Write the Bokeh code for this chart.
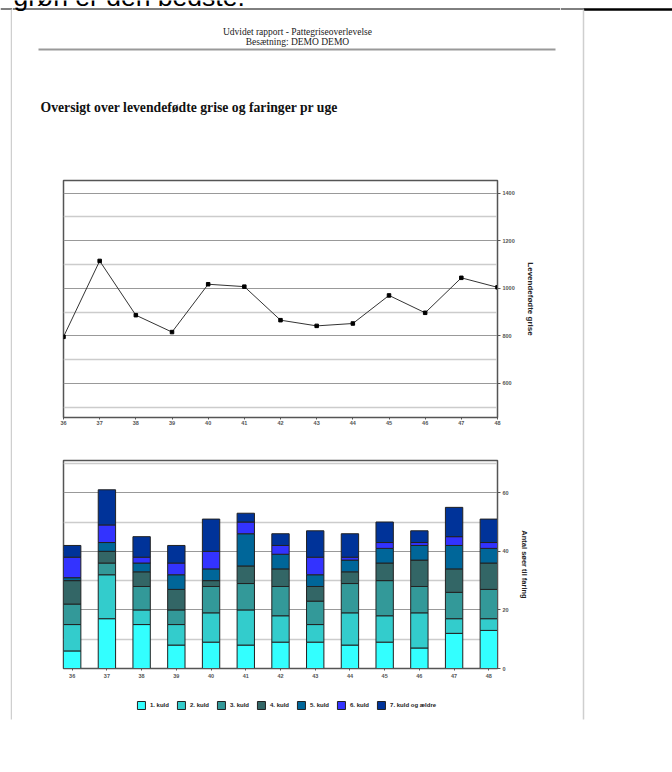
from bokeh.plotting import figure
from bokeh.models import Range1d, FixedTicker, Legend, LegendItem, ColumnDataSource
from bokeh.layouts import row, column
from bokeh.embed import file_html
from bokeh.resources import INLINE
from bokeh.core.properties import value

# ---------------- data ----------------
weeks = [36, 37, 38, 39, 40, 41, 42, 43, 44, 45, 46, 47, 48]
levendefodte = [796, 1115, 887, 816, 1017, 1007, 866, 842, 852, 970, 897, 1044, 1004]

kuld_names = ["1. kuld", "2. kuld", "3. kuld", "4. kuld", "5. kuld", "6. kuld", "7. kuld og ældre"]
kuld1 = [6, 17, 15, 8, 9, 8, 9, 9, 8, 9, 7, 12, 13]
kuld2 = [9, 15, 5, 7, 10, 12, 9, 6, 11, 9, 12, 5, 4]
kuld3 = [7, 4, 8, 5, 9, 9, 10, 8, 10, 12, 9, 9, 10]
kuld4 = [8, 4, 5, 7, 2, 6, 6, 5, 4, 6, 9, 8, 9]
kuld5 = [1, 3, 3, 5, 4, 11, 5, 4, 4, 5, 5, 8, 5]
kuld6 = [7, 6, 2, 4, 6, 4, 3, 6, 1, 2, 1, 3, 2]
kuld7 = [4, 12, 7, 6, 11, 3, 4, 9, 8, 7, 4, 10, 8]
kuld_colors = ["#33FFFF", "#33CCCC", "#339999", "#336666", "#006699", "#3333FF", "#003399"]

line_ticks = [600, 800, 1000, 1200, 1400]
line_minor = [500, 700, 900, 1100, 1300]
bar_ticks = [0, 20, 40, 60]
bar_minor = [10, 30, 50, 70]

top_text = "grøn er den bedste."
header1 = "Udvidet rapport - Pattegriseoverlevelse"
header2 = "Besætning: DEMO DEMO"
title = "Oversigt over levendefødte grise og faringer pr uge"

SANS = "Liberation Sans"
SERIF = "Liberation Serif"
BORDER = "#cfcfcf"


def blank(width, height, x0, x1, y0, y1):
    p = figure(width=width, height=height, x_range=Range1d(x0, x1), y_range=Range1d(y1, y0),
               output_backend="svg", toolbar_location=None,
               x_axis_location=None, y_axis_location=None, min_border=0,
               outline_line_color=None, background_fill_color="white",
               border_fill_color="white", frame_align=False)
    p.grid.visible = False
    return p


# ---------------- left / right page strips ----------------
stripL = blank(12, 772, 0, 12, 0, 772)
stripL.segment(x0=[0], y0=[8.5], x1=[12], y1=[8.5], line_color="black", line_width=1)
stripL.segment(x0=[11], y0=[9], x1=[11], y1=[719], line_color=BORDER, line_width=1.5)

stripR = blank(112, 772, 560, 672, 0, 772)
stripR.segment(x0=[560], y0=[8.5], x1=[583], y1=[8.5], line_color="black", line_width=1)
stripR.segment(x0=[583], y0=[9], x1=[672], y1=[9], line_color="black", line_width=2.5)
stripR.segment(x0=[583], y0=[9], x1=[583], y1=[719], line_color=BORDER, line_width=1.5)

# ---------------- header ----------------
figA = blank(548, 170, 12, 560, 0, 170)
figA.text(x=[13], y=[-4], text=[top_text], text_align="left", text_baseline="alphabetic",
          text_font=value(SANS), text_font_size="26.5px", text_color="black")
figA.segment(x0=[12], y0=[8.5], x1=[560], y1=[8.5], line_color="black", line_width=1)
figA.text(x=[297], y=[31], text=[header1], text_align="center", text_baseline="middle",
          text_font=value(SERIF), text_font_size="9.5px", text_color="#222")
figA.text(x=[297], y=[41], text=[header2], text_align="center", text_baseline="middle",
          text_font=value(SERIF), text_font_size="9.5px", text_color="#222")
figA.segment(x0=[38], y0=[49], x1=[555], y1=[49], line_color="#999999", line_width=2)
figA.text(x=[40], y=[107], text=[title], text_align="left", text_baseline="middle",
          text_font=value(SERIF), text_font_size="13.7px", text_font_style="bold", text_color="#111")


def style_axes(p, yticks, yminor, ylabel, ylabel_size):
    p.outline_line_color = "#555555"
    p.outline_line_width = 1.5
    p.xgrid.visible = False
    ya = p.yaxis[0]
    ya.ticker = FixedTicker(ticks=yticks, minor_ticks=yminor)
    ya.axis_label = ylabel
    ya.axis_label_text_font = SANS
    ya.axis_label_text_font_size = ylabel_size
    ya.axis_label_text_font_style = "bold"
    ya.axis_label_text_color = "#222222"
    ya.axis_label_standoff = 8
    ya.major_label_text_font = SANS
    ya.major_label_text_font_size = "5.5px"
    ya.major_label_text_font_style = "bold"
    ya.major_label_text_color = "#555555"
    ya.major_label_standoff = 2
    ya.major_tick_out = 3
    ya.major_tick_in = 0
    ya.minor_tick_out = 0
    ya.minor_tick_in = 0
    ya.axis_line_color = "#555555"
    ya.major_tick_line_color = "#555555"
    g = p.ygrid[0]
    g.ticker = FixedTicker(ticks=yticks, minor_ticks=yminor)
    g.grid_line_color = "#999999"
    g.grid_line_width = 1
    g.minor_grid_line_color = "#cccccc"
    g.minor_grid_line_width = 1.5
    xa = p.xaxis[0]
    xa.ticker = FixedTicker(ticks=weeks)
    xa.major_label_text_font = SANS
    xa.major_label_text_font_size = "5.5px"
    xa.major_label_text_font_style = "bold"
    xa.major_label_text_color = "#555555"
    xa.major_tick_out = 2
    xa.major_tick_in = 0
    xa.minor_tick_out = 0
    xa.minor_tick_in = 0
    xa.axis_line_color = "#555555"
    xa.major_tick_line_color = "#555555"


# ---------------- line chart ----------------
pB = figure(width=548, height=270, x_range=Range1d(36, 48), y_range=Range1d(457, 1453),
            y_axis_location="right", output_backend="svg", toolbar_location=None,
            min_border_left=51, min_border_right=63, min_border_top=10, min_border_bottom=23,
            background_fill_color="white", border_fill_color="white", frame_align=False)
style_axes(pB, line_ticks, line_minor, "Levendefødte grise", "8px")
pB.xaxis[0].major_label_standoff = 1
pB.line(weeks, levendefodte, line_color="#333333", line_width=1)
pB.scatter(weeks, levendefodte, marker="square", size=3.5, color="black")

# ---------------- stacked bar chart ----------------
stackers = ["k1", "k2", "k3", "k4", "k5", "k6", "k7"]
source = ColumnDataSource(dict(week=weeks, k1=kuld1, k2=kuld2, k3=kuld3, k4=kuld4,
                               k5=kuld5, k6=kuld6, k7=kuld7))
pC = figure(width=548, height=250, x_range=Range1d(35.75, 48.25), y_range=Range1d(0, 71),
            y_axis_location="right", output_backend="svg", toolbar_location=None,
            min_border_left=51, min_border_right=63, min_border_top=20, min_border_bottom=22,
            background_fill_color="white", border_fill_color="white", frame_align=False)
style_axes(pC, bar_ticks, bar_minor, "Antal søer til faring", "7.5px")
pC.xaxis[0].major_label_standoff = 3
pC.vbar_stack(stackers, x="week", width=0.5, fill_color=kuld_colors,
              line_color="#222222", line_width=1, source=source)

# ---------------- legend strip ----------------
# hidden copies of the bar series serve only as legend swatches
figD = blank(548, 82, 12, 560, 690, 772)
swatches = figD.vbar_stack(stackers, x="week", width=0.5, fill_color=kuld_colors,
                           line_color="#222222", line_width=1, source=source)
for r in swatches:
    r.visible = False
legend = Legend(items=[LegendItem(label=n, renderers=[r]) for n, r in zip(kuld_names, swatches)],
                orientation="horizontal", location="top_center",
                glyph_width=10, glyph_height=10, label_height=10, label_width=10,
                label_standoff=4, spacing=7, padding=0, margin=10,
                inactive_fill_alpha=0,
                label_text_font=SANS, label_text_font_size="6px", label_text_font_style="bold",
                label_text_color="#222222", border_line_color=None, background_fill_alpha=0)
figD.add_layout(legend, "center")

layout = row(stripL, column(figA, pB, pC, figD), stripR)
open("out.html", "w").write(file_html(layout, INLINE))
